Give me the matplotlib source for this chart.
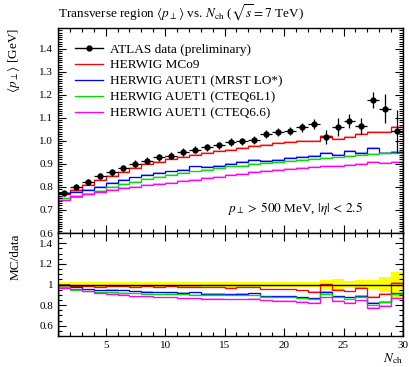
import numpy as np
import matplotlib
matplotlib.use('Agg')
import matplotlib.pyplot as plt
from matplotlib.lines import Line2D
from matplotlib.ticker import MultipleLocator, FuncFormatter

plt.rcParams['font.family'] = ['Liberation Serif', 'DejaVu Serif']
plt.rcParams['mathtext.fontset'] = 'stix'

# bins of N_ch, 1..30
edges = np.arange(1, 31)
centers = edges[:-1] + 0.5

data = [0.772, 0.799, 0.823, 0.848, 0.863, 0.882, 0.901, 0.914, 0.928, 0.936,
        0.952, 0.962, 0.972, 0.980, 0.994, 0.998, 1.003, 1.028, 1.038, 1.042,
        1.059, 1.075, 1.018, 1.060, 1.086, 1.064, 1.177, 1.140, 1.042]
data_relerr = [0.021, 0.021, 0.021, 0.021, 0.021, 0.021, 0.021, 0.021, 0.021, 0.021,
               0.022, 0.022, 0.022, 0.022, 0.022, 0.022, 0.022, 0.023, 0.023, 0.024,
               0.024, 0.027, 0.04, 0.05, 0.035, 0.045, 0.04, 0.075, 0.12]

mc09 = [0.770, 0.788, 0.808, 0.830, 0.848, 0.866, 0.882, 0.898, 0.910, 0.920,
        0.930, 0.940, 0.948, 0.955, 0.962, 0.970, 0.977, 0.984, 0.990, 0.995,
        1.000, 1.000, 1.022, 1.008, 1.017, 1.030, 1.037, 1.037, 1.060]
auet_mrst = [0.772, 0.778, 0.787, 0.801, 0.819, 0.831, 0.841, 0.851, 0.860, 0.867,
             0.875, 0.889, 0.885, 0.893, 0.899, 0.908, 0.918, 0.914, 0.918, 0.924,
             0.930, 0.933, 0.948, 0.937, 0.955, 0.948, 0.970, 0.948, 0.952]
auet_cteq6l1 = [0.752, 0.758, 0.768, 0.784, 0.799, 0.812, 0.823, 0.834, 0.843, 0.853,
                0.860, 0.867, 0.875, 0.882, 0.889, 0.893, 0.899, 0.906, 0.910, 0.914,
                0.917, 0.921, 0.926, 0.928, 0.933, 0.939, 0.943, 0.946, 0.948]
auet_cteq66 = [0.743, 0.762, 0.769, 0.778, 0.787, 0.794, 0.801, 0.808, 0.813, 0.819,
               0.826, 0.832, 0.838, 0.844, 0.850, 0.857, 0.863, 0.869, 0.873, 0.878,
               0.882, 0.886, 0.891, 0.893, 0.896, 0.901, 0.910, 0.905, 0.910]

mc_sets = [
    (mc09, '#ff0000', 'HERWIG MCo9'),
    (auet_mrst, '#0000ff', 'HERWIG AUET1 (MRST LO*)'),
    (auet_cteq6l1, '#00e000', 'HERWIG AUET1 (CTEQ6L1)'),
    (auet_cteq66, '#ff00ff', 'HERWIG AUET1 (CTEQ6.6)'),
]

data = np.array(data)
relerr = np.array(data_relerr)
err = data * relerr * 0.75

fig = plt.figure(figsize=(4.1, 3.67), dpi=100)
ax = fig.add_axes([0.1415, 0.365, 0.8415, 0.559])
rax = fig.add_axes([0.1415, 0.0845, 0.8415, 0.2805])

band = 0.004
handles = [Line2D([], [], color='black', marker='o', ms=3.5, lw=1.0)]
labels = ['ATLAS data (preliminary)']
for vals, col, lab in mc_sets:
    vals = np.array(vals)
    ax.stairs(vals + band, edges, baseline=vals - band, fill=True, color=col, alpha=0.3, lw=0)
    ax.stairs(vals, edges, color=col, lw=0.95)
    r = vals / data
    rax.stairs(r + band, edges, baseline=r - band, fill=True, color=col, alpha=0.3, lw=0)
    rax.stairs(r, edges, color=col, lw=0.95)
    handles.append(Line2D([], [], color=col, lw=0.95))
    labels.append(lab)

ax.errorbar(centers, data, xerr=0.5, yerr=err, fmt='o', color='black',
            ms=3.5, elinewidth=0.9, capsize=0, zorder=5)

# ratio panel: data uncertainty band and unity line
rax.stairs(1 + relerr, edges, baseline=1 - relerr, fill=True, color='#ffff00', lw=0, zorder=0)
rax.axhline(1.0, color='black', lw=1.0, zorder=1)

ax.set_xlim(1, 30)
ax.set_ylim(0.6, 1.49)
rax.set_xlim(1, 30)
rax.set_ylim(0.5, 1.5)

for a in (ax, rax):
    a.xaxis.set_major_locator(MultipleLocator(5))
    a.xaxis.set_minor_locator(MultipleLocator(1))
    a.tick_params(which='both', direction='in', top=True, right=True, labelsize=8)
    a.tick_params(which='major', length=5.8, width=0.8)
    a.tick_params(which='minor', length=2.9, width=0.8)
    for s in a.spines.values():
        s.set_linewidth(1.0)

ax.yaxis.set_major_locator(MultipleLocator(0.1))
ax.yaxis.set_minor_locator(MultipleLocator(0.01))
ax.tick_params(labelbottom=False)
rax.yaxis.set_major_locator(MultipleLocator(0.2))
rax.yaxis.set_minor_locator(MultipleLocator(0.05))
rax.yaxis.set_major_formatter(FuncFormatter(lambda v, p: '%g' % round(v, 2)))

ax.set_ylabel(r'$\langle p_{\perp} \rangle$ [GeV]', fontsize=9.5, loc='top')
ax.yaxis.set_label_coords(-0.105, 1.0)
rax.set_ylabel('MC/data', fontsize=9.5, loc='top')
rax.yaxis.set_label_coords(-0.105, 1.0)
rax.set_xlabel(r'$N_{\mathrm{ch}}$', fontsize=9.5, loc='right', labelpad=1)

ax.legend(handles, labels, loc='upper left', bbox_to_anchor=(0.049, 0.925),
          frameon=False, fontsize=9.5, borderaxespad=0, borderpad=0,
          handlelength=2.1, handletextpad=0.55, labelspacing=0.28)

ax.text(0.884, 0.122, r'$p_{\perp}\,>\,500$ MeV, $|\eta|\,<\,2.5$', transform=ax.transAxes,
        ha='right', va='center', fontsize=9.5)

fig.text(0.1415, 1 - 13 / 367, r'Transverse region $\langle p_{\perp} \rangle$ vs. $N_{\mathrm{ch}}$ ($\sqrt{s} = 7$ TeV)',
         ha='left', va='center', fontsize=9.5)

fig.savefig('out.png', dpi=100)
